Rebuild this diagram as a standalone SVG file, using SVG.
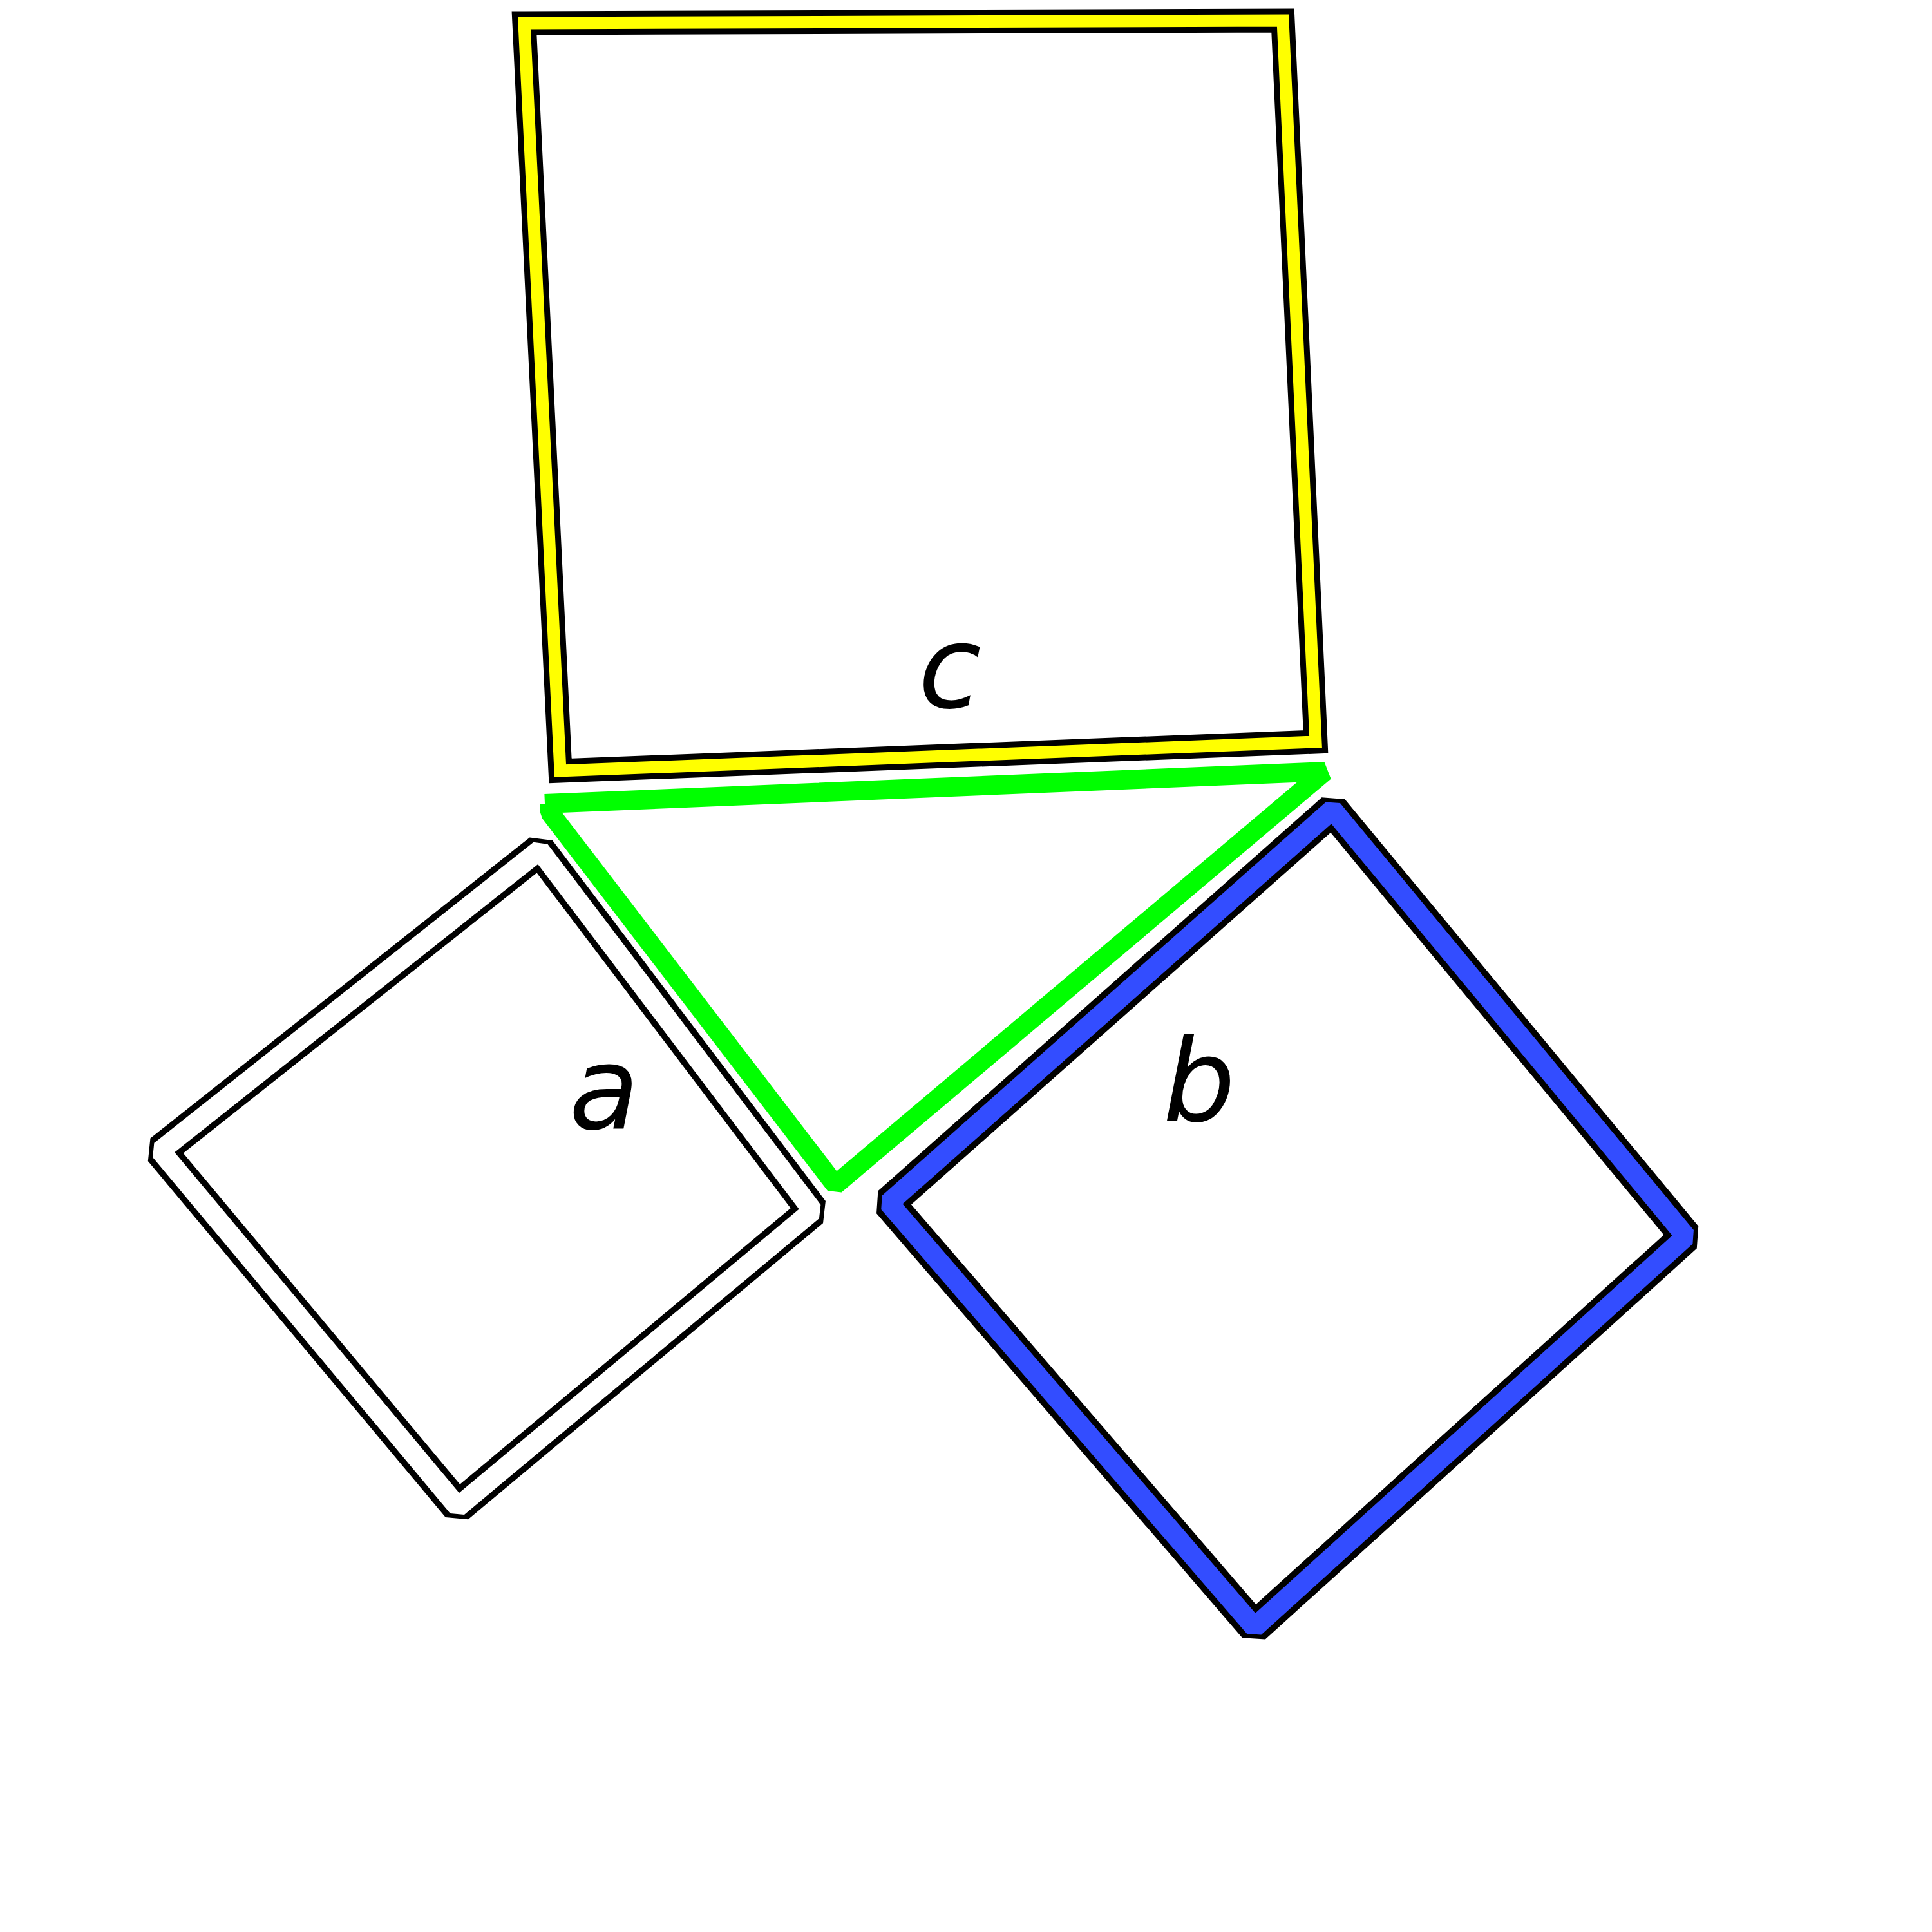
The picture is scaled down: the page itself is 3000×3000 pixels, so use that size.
<svg xmlns="http://www.w3.org/2000/svg" width="3000" height="3000" viewBox="0 0 3000 3000">
<style>
.blk{fill:none;stroke:#000;stroke-width:50;stroke-linejoin:bevel}
.lbl{font-family:"DejaVu Sans",sans-serif;font-style:oblique;font-size:178px;fill:#000;text-anchor:middle}
</style>
<rect width="3000" height="3000" fill="#fff"/>
<g id="square-c">
<path d="M814,36 L1992,32 L2043,1152 L870,1197 Z" fill="none" stroke="#000" stroke-width="37" stroke-linejoin="miter"/>
<path d="M814,36 L1992,32 L2043,1152 L870,1197 Z" fill="none" stroke="#ffff00" stroke-width="19" stroke-linejoin="miter"/>
<text class="lbl" x="1475" y="1098">c</text>
</g>
<g id="triangle">
<path d="M846,1248 L2057,1198 L1297,1840 L854,1262 L854,1248" fill="none" stroke="#00ff00" stroke-width="30" stroke-linejoin="bevel"/>
</g>
<g id="square-a">
<path class="blk" d="M838,1320 L249,1787 L711,2340 L1262,1880 Z"/>
<path d="M838,1320 L249,1787 L711,2340 L1262,1880 Z" fill="none" stroke="#fff" stroke-width="31" stroke-linejoin="bevel"/>
<text class="lbl" x="938" y="1752">a</text>
</g>
<g id="square-b">
<path class="blk" d="M2069,1257 L1380,1868 L1948,2527 L2618,1920 Z"/>
<path d="M2069,1257 L1380,1868 L1948,2527 L2618,1920 Z" fill="none" stroke="#334dff" stroke-width="31" stroke-linejoin="bevel"/>
<text class="lbl" x="1862" y="1741">b</text>
</g>
<g id="connectors"></g>
</svg>
